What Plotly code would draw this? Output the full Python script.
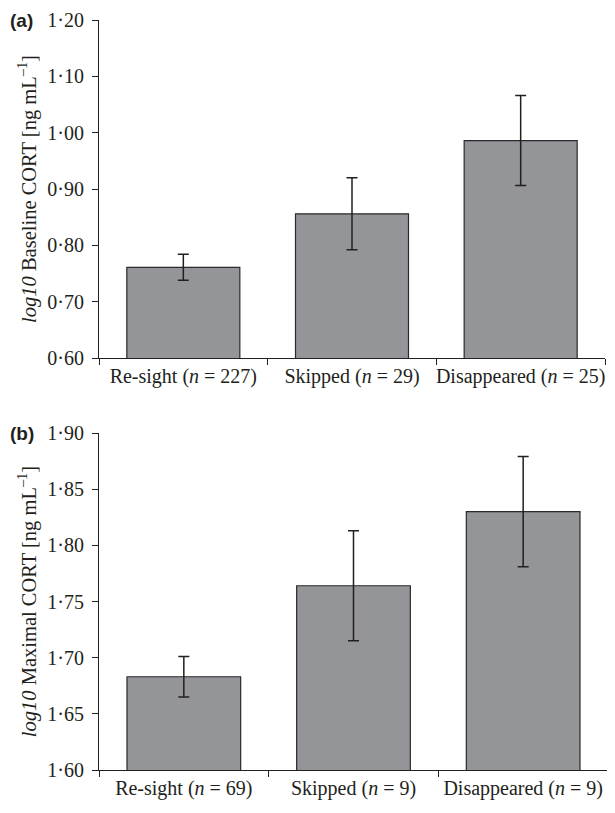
import plotly.graph_objects as go
from plotly.subplots import make_subplots

categories = ["Re-sight", "Skipped", "Disappeared"]
labels_a = ["Re-sight (<i>n</i> = 227)", "Skipped (<i>n</i> = 29)", "Disappeared (<i>n</i> = 25)"]
labels_b = ["Re-sight (<i>n</i> = 69)", "Skipped (<i>n</i> = 9)", "Disappeared (<i>n</i> = 9)"]
baseline_mean = [0.761, 0.856, 0.986]
baseline_se = [0.023, 0.064, 0.080]
maximal_mean = [1.683, 1.764, 1.830]
maximal_se = [0.018, 0.049, 0.049]
ticks_a = [0.60, 0.70, 0.80, 0.90, 1.00, 1.10, 1.20]
ticks_b = [1.60, 1.65, 1.70, 1.75, 1.80, 1.85, 1.90]

def dot(v):
    return f"{v:.2f}".replace(".", "·")

BAR = "#939598"
INK = "#231f20"
SERIF = "Liberation Serif, Times New Roman, serif"

# page has an 8px body margin; figure sized to fit the window
W, H = 607, 805
L, R, T, B = 91, 7, 12, 43

fig = make_subplots(rows=2, cols=1)

for row, mean, se in [(1, baseline_mean, baseline_se), (2, maximal_mean, maximal_se)]:
    fig.add_trace(go.Bar(
        x=categories, y=mean, width=0.67,
        marker=dict(color=BAR, line=dict(color="#2a2a2a", width=1.2)),
        error_y=dict(type="data", array=se, visible=True, color=INK, thickness=1.5, width=5.5),
        showlegend=False,
    ), row=row, col=1)

axis_common = dict(showline=True, linecolor=INK, linewidth=1.2, ticks="outside",
                   ticklen=6, tickcolor=INK, tickwidth=1.2, showgrid=False, zeroline=False,
                   automargin=False)

fig.update_xaxes(**axis_common, type="category", tickson="boundaries", range=[-0.5, 2.5],
                 tickangle=0, tickfont=dict(family=SERIF, size=20, color=INK))
fig.update_xaxes(tickvals=categories, ticktext=labels_a, row=1, col=1)
fig.update_xaxes(tickvals=categories, ticktext=labels_b, row=2, col=1)
fig.update_yaxes(**axis_common, ticklabelstandoff=4,
                 tickfont=dict(family=SERIF, size=20, color=INK))
fig.update_yaxes(range=[0.6, 1.2], tickvals=ticks_a, ticktext=[dot(v) for v in ticks_a],
                 title=dict(text="<i>log10</i> Baseline CORT [ng mL<sup>–1</sup>]",
                            font=dict(family=SERIF, size=20.5, color=INK), standoff=5),
                 row=1, col=1)
fig.update_yaxes(range=[1.6, 1.9], tickvals=ticks_b, ticktext=[dot(v) for v in ticks_b],
                 title=dict(text="<i>log10</i> Maximal CORT [ng mL<sup>–1</sup>]",
                            font=dict(family=SERIF, size=20.5, color=INK), standoff=5),
                 row=2, col=1)

plot_w = W - L - R
plot_h = H - T - B
# pixel targets (figure coords): top panel y 12..350, x 91..597 ; bottom panel y 425..762, x 91..600
fig.update_layout(
    width=W, height=H,
    margin=dict(l=L, r=R, t=T, b=B),
    paper_bgcolor="white", plot_bgcolor="white",
    xaxis=dict(domain=[0, (597 - L) / plot_w]), xaxis2=dict(domain=[0, 1]),
    yaxis=dict(domain=[(H - B - 350) / plot_h, 1.0]),
    yaxis2=dict(domain=[0.0, (H - B - 425) / plot_h]),
)
for txt, py in [("<b>(a)</b>", 12), ("<b>(b)</b>", 425)]:
    fig.add_annotation(text=txt, x=(0 - L) / plot_w, y=(H - B - py) / plot_h,
                       xref="paper", yref="paper", showarrow=False,
                       xanchor="left", yanchor="middle",
                       font=dict(family="Liberation Sans, Arial, sans-serif", size=19, color=INK))

fig.write_html("out.html")
